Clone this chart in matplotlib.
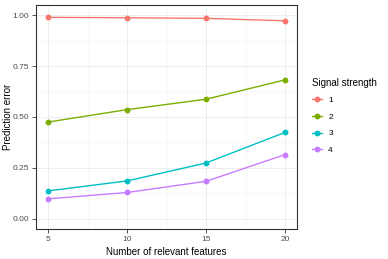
import matplotlib
matplotlib.use("Agg")
import matplotlib.pyplot as plt
from matplotlib.ticker import MultipleLocator

plt.rcParams['font.family'] = ['Liberation Sans', 'DejaVu Sans']

# data
n_features = [5, 10, 15, 20]
strengths = ['1', '2', '3', '4']
errors = {
    '1': [0.989, 0.987, 0.984, 0.972],
    '2': [0.475, 0.536, 0.587, 0.682],
    '3': [0.137, 0.186, 0.274, 0.424],
    '4': [0.098, 0.129, 0.184, 0.315],
}
colors = ['#F8766D', '#7CAE00', '#00BFC4', '#C77CFF']

fig = plt.figure(figsize=(3.88, 2.59), dpi=100)
ax = fig.add_axes([0.094, 0.116, 0.671, 0.865])

for s, c in zip(strengths, colors):
    ax.plot(n_features, errors[s], color=c, lw=1.0, marker='o', ms=3.2,
            label=s, zorder=3)

ax.set_xlim(4.25, 20.75)
ax.set_ylim(-0.05, 1.05)
ax.xaxis.set_major_locator(MultipleLocator(5))
ax.xaxis.set_minor_locator(MultipleLocator(2.5))
ax.yaxis.set_major_locator(MultipleLocator(0.25))
ax.yaxis.set_minor_locator(MultipleLocator(0.125))
ax.yaxis.set_major_formatter(lambda v, p: f'{v:.2f}')

ax.grid(which='major', color='#EBEBEB', lw=0.6)
ax.grid(which='minor', color='#F4F4F4', lw=0.4)
ax.set_axisbelow(True)
for sp in ax.spines.values():
    sp.set_color('#333333')
    sp.set_linewidth(0.8)

ax.tick_params(which='major', length=2.75, width=0.6, color='#333333',
               labelsize=6, labelcolor='#4D4D4D', pad=2.5)
ax.tick_params(which='minor', length=0)

ax.set_xlabel('Number of relevant features', fontsize=7, labelpad=2.5)
ax.set_ylabel('Prediction error', fontsize=7, va='center')
ax.yaxis.set_label_coords(-0.108, 0.5)

leg = ax.legend(title='Signal strength', loc='upper left',
                bbox_to_anchor=(0.803, 0.70), bbox_transform=fig.transFigure,
                frameon=False, fontsize=6, title_fontsize=7,
                handlelength=1.3, handletextpad=0.7, labelspacing=1.05,
                borderaxespad=0, borderpad=0)
leg._legend_box.align = 'left'

fig.savefig('out.png', dpi=100)
